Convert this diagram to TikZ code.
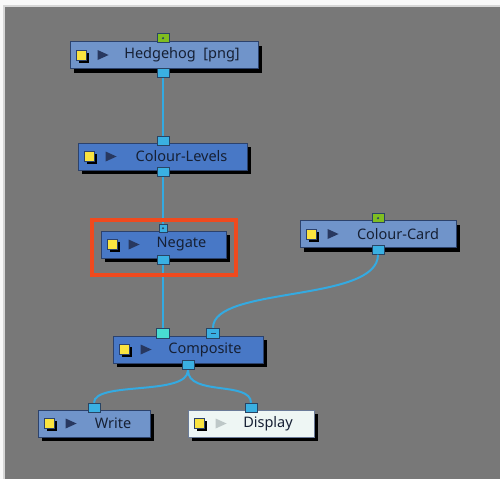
\documentclass[tikz,border=0pt]{standalone}
\usepackage{fontspec}
\setmainfont{Noto Sans}
\usetikzlibrary{shadows}

\definecolor{pagewhite}{RGB}{248,248,248}
\definecolor{panelrim}{RGB}{214,214,214}
\definecolor{panelgrey}{RGB}{120,120,120}
\definecolor{boxlight}{RGB}{112,148,202}
\definecolor{boxdark}{RGB}{72,120,198}
\definecolor{boxwhite}{RGB}{238,246,244}
\definecolor{boxline}{RGB}{44,66,108}
\definecolor{labeltext}{RGB}{22,32,52}
\definecolor{portblue}{RGB}{58,176,226}
\definecolor{portgreen}{RGB}{128,190,32}
\definecolor{portcyan}{RGB}{72,220,210}
\definecolor{portline}{RGB}{40,68,100}
\definecolor{wireblue}{RGB}{52,170,225}
\definecolor{iconyellow}{RGB}{250,228,64}
\definecolor{playnavy}{RGB}{40,56,96}
\definecolor{playgrey}{RGB}{190,200,200}
\definecolor{markred}{RGB}{240,74,30}

\tikzset{
  fxbox/.style={draw=boxline, line width=0.8pt, minimum height=27pt, inner sep=0pt,
    drop shadow={shadow xshift=4pt, shadow yshift=-4pt, opacity=1, fill=black}},
  fxlight/.style={fxbox, fill=boxlight},
  fxdark/.style={fxbox, fill=boxdark},
  fxwhite/.style={fxbox, fill=boxwhite, draw=boxline!70},
  fxlabel/.style={text=labeltext, font=\fontsize{14.5}{17}\selectfont, inner sep=0pt},
  port/.style={draw=portline, line width=0.8pt, fill=portblue, minimum width=12pt,
    minimum height=9pt, inner sep=0pt},
  greenport/.style={port, fill=portgreen},
  cyanport/.style={port, fill=portcyan},
  icon/.style={draw=boxline, line width=0.5pt, fill=iconyellow, minimum size=10pt, inner sep=0pt,
    drop shadow={shadow xshift=2.5pt, shadow yshift=-2.5pt, opacity=1, fill=black}},
  wire/.style={draw=wireblue, line width=2pt},
  highlight/.style={draw=markred, line width=4pt}
}

\begin{document}
\begin{tikzpicture}[x=1pt,y=-1pt]

  % page and node view panel
  \useasboundingbox (0,0) rectangle (500,479);
  \fill[pagewhite] (0,0) rectangle (500,479);
  \fill[panelrim] (3,5) rectangle (500,479);
  \fill[panelgrey] (5,7) rectangle (500,479);

  % the effect nodes
  \node[fxlight, minimum width=188pt] (hedge) at (164,55) {};
  \node[fxdark, minimum width=169pt] (levels) at (162.5,156.5) {};
  \node[fxdark, minimum width=125pt] (negate) at (163.5,244.5) {};
  \node[fxlight, minimum width=156pt] (card) at (378,234) {};
  \node[fxdark, minimum width=150pt] (comp) at (188,349.5) {};
  \node[fxlight, minimum width=112pt] (write) at (94,423.5) {};
  \node[fxwhite, minimum width=126pt] (display) at (251,423.5) {};

  % labels
  \node[fxlabel] (hedge-text) at ([xshift=18pt]hedge.center) {Hedgehog~~[png]};
  \node[fxlabel] (levels-text) at ([xshift=19pt]levels.center) {Colour-Levels};
  \node[fxlabel] (negate-text) at ([xshift=18pt]negate.center) {Negate};
  \node[fxlabel] (card-text) at ([xshift=20pt]card.center) {Colour-Card};
  \node[fxlabel] (comp-text) at ([xshift=17pt]comp.center) {Composite};
  \node[fxlabel] (write-text) at ([xshift=19pt]write.center) {Write};
  \node[fxlabel] (display-text) at ([xshift=17pt]display.center) {Display};

  % yellow icon and play arrow on each node
  \foreach \n/\c in {hedge/playnavy, levels/playnavy, negate/playnavy, card/playnavy,
                     comp/playnavy, write/playnavy, display/playgrey} {
    \node[icon] (\n-icon) at ([xshift=11.5pt]\n.west) {};
    \fill[\c] ([xshift=28pt,yshift=5pt]\n.west) -- ++(0,10) -- ++(11,-5) -- cycle;
  }

  % ports
  \node[greenport, anchor=south] (hedge-in) at ([xshift=-1pt,yshift=-2pt]hedge.north) {};
  \fill[portline] (hedge-in.center) circle (1.2pt);
  \node[port, anchor=north] (hedge-out) at ([xshift=-1pt,yshift=1pt]hedge.south) {};
  \node[port, anchor=south] (levels-in) at ([xshift=0.5pt,yshift=-3pt]levels.north) {};
  \node[port, anchor=north] (levels-out) at ([xshift=0.5pt,yshift=3pt]levels.south) {};
  \node[port, minimum width=8pt, minimum height=8pt, anchor=south] (negate-in) at ([xshift=-0.5pt,yshift=-2pt]negate.north) {};
  \fill[portline] (negate-in.center) circle (1.2pt);
  \node[port, anchor=north] (negate-out) at ([xshift=-0.5pt,yshift=3pt]negate.south) {};
  \node[greenport, anchor=south] (card-in) at ([yshift=-3pt]card.north) {};
  \fill[portline] (card-in.center) circle (1.2pt);
  \node[port, anchor=north] (card-out) at ([yshift=3pt]card.south) {};
  \node[cyanport, minimum width=13pt, minimum height=10pt, anchor=south] (comp-in) at ([xshift=-25pt,yshift=-3pt]comp.north) {};
  \node[port, minimum width=13pt, minimum height=10pt, anchor=south] (comp-in2) at ([xshift=25pt,yshift=-3pt]comp.north) {};
  \draw[portline, line width=1.2pt] ([xshift=-2.5pt]comp-in2.center) -- ([xshift=2.5pt]comp-in2.center);
  \node[port, anchor=north] (comp-out) at ([yshift=3pt]comp.south) {};
  \node[port, anchor=south] (write-in) at ([yshift=-3pt]write.north) {};
  \node[port, anchor=south] (display-in) at ([yshift=-3pt]display.north) {};

  % wires between the ports
  \draw[wire] (hedge-out.south) -- (levels-in.north);
  \draw[wire] (levels-out.south) -- (negate-in.north);
  \draw[wire] (negate-out.south) -- (comp-in.north);
  \draw[wire] (card-out.south) .. controls +(0,48) and +(0,-42) .. (comp-in2.north);
  \draw[wire] (comp-out.south) .. controls +(0,26) and +(0,-22) .. (write-in.north);
  \draw[wire] (comp-out.south) .. controls +(0,26) and +(0,-22) .. (display-in.north);

  % red frame round the selected node
  \draw[highlight] ([shift={(-9,-11)}]negate.north west) rectangle ([shift={(10,17)}]negate.south east);

\end{tikzpicture}
\end{document}
